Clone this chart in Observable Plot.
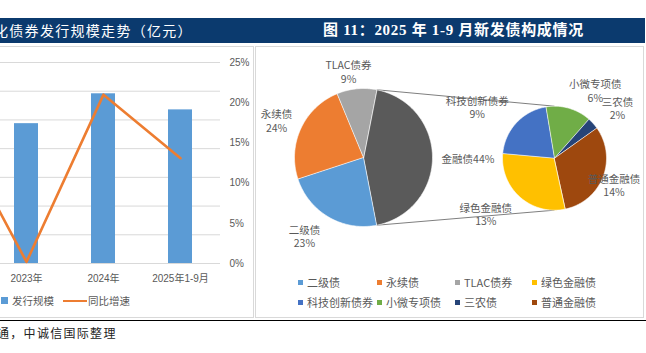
<!DOCTYPE html>
<html><head><meta charset="utf-8">
<script src="https://cdn.jsdelivr.net/npm/d3@7"></script>
<script src="https://cdn.jsdelivr.net/npm/@observablehq/plot@0.6"></script>
<style>
body{margin:0;width:646px;height:353px;position:relative;overflow:hidden;background:#fff;font-family:"Liberation Sans","Noto Sans CJK SC",sans-serif;}
.abs{position:absolute;box-sizing:border-box;}
#band{left:0;top:18px;width:645px;height:25px;background:#0b3a6e;}
.title{top:18px;height:25px;line-height:25px;color:#fff;white-space:nowrap;}
#t1{left:-6px;font-family:"Noto Sans CJK SC",sans-serif;font-size:14px;letter-spacing:1.3px;}
#t2{left:323px;font-family:"Liberation Serif","Noto Sans CJK SC",serif;font-size:15px;font-weight:bold;letter-spacing:0.7px;}
.panel{border:1px solid #d9d9d9;}
.lg{font-family:"Noto Sans CJK SC",sans-serif;font-size:10.5px;color:#595959;white-space:nowrap;line-height:13px;}
#caption{left:-3px;top:325px;font-family:"Noto Sans CJK SC",sans-serif;font-size:12px;letter-spacing:1.3px;color:#222;line-height:16px;white-space:nowrap;}
svg{max-width:none !important;}
</style></head><body>
<div id="band" class="abs"></div>
<div id="t1" class="abs title">化债券发行规模走势（亿元）</div>
<div id="t2" class="abs title">图 11：2025 年 1-9 月新发债构成情况</div>
<div class="abs panel" style="left:-2px;top:46px;width:256px;height:272px;"></div>
<div class="abs panel" style="left:255px;top:46px;width:389px;height:272px;"></div>
<div id="leftClip" class="abs" style="left:0;top:44px;width:253px;height:250px;overflow:hidden;"></div>
<div id="leftLegend"></div>
<div id="rightPlot" class="abs" style="left:256px;top:44px;width:388px;height:273px;"></div>
<div id="rightLegend"></div>
<div class="abs" style="left:0;top:319.5px;width:646px;height:1.5px;background:#000;"></div>
<div id="caption" class="abs">通，中诚信国际整理</div>
<script>
// ---------- data: left chart ----------
const years = ["2022年", "2023年", "2024年", "2025年1-9月"];
const issuance = [4860, 4870, 5910, 5350];      // 发行规模 (left axis, outside the crop)
const yoy = [18.1, 0.2, 21.0, 13.1];             // 同比增速 %
const leftTicks = [0, 1000, 2000, 3000, 4000, 5000, 6000, 7000];
const rightTicks = [0, 5, 10, 15, 20, 25];
const visibleYears = ["2023年", "2024年", "2025年1-9月"];
const leftSeries = ["发行规模", "同比增速"];

// ---------- data: right chart ----------
const mainNames = ["二级债", "永续债", "TLAC债券"];
const mainValues = [23.0, 23.8, 9.3];
const otherName = "金融债";
const subNames = ["绿色金融债", "科技创新债券", "小微专项债", "三农债", "普通金融债"];
const subValues = [13.1, 9.2, 6.2, 1.6, 13.8];
const legendNames = ["二级债", "永续债", "TLAC债券", "绿色金融债", "科技创新债券", "小微专项债", "三农债", "普通金融债"];
const legendColors = ["#5B9BD5", "#ED7D31", "#A5A5A5", "#FFC000", "#4472C4", "#70AD47", "#264478", "#9E480E"];
const otherColor = "#5a5a5a";

// ---------- left chart ----------
const K = 7000 / 25;
const rows = years.map((c, i) => ({c, v: issuance[i], g: yoy[i]}));
const left = Plot.plot({
  width: 411, height: 250, marginLeft: 60, marginRight: 40, marginTop: 18, marginBottom: 31,
  style: {fontFamily: '"Liberation Sans","Noto Sans CJK SC",sans-serif', fontSize: "10px", color: "#595959", background: "transparent"},
  x: {domain: years, paddingInner: 0.685, paddingOuter: 0.3425, axis: null, label: null},
  y: {domain: [0, 7000], axis: null, label: null},
  marks: [
    Plot.ruleY(leftTicks, {stroke: "#d9d9d9", strokeWidth: 1}),
    Plot.barY(rows, {x: "c", y: "v", fill: "#5B9BD5"}),
    Plot.line(rows, {x: "c", y: d => d.g * K, stroke: "#ED7D31", strokeWidth: 2.6}),
    Plot.axisX({ticks: visibleYears, tickSize: 0, tickPadding: 11, fontSize: 10, label: null}),
    Plot.axisY({anchor: "right", ticks: rightTicks.map(t => t * K), tickFormat: d => Math.round(d / K) + "%", tickSize: 0, tickPadding: 9, fontSize: 10, label: null})
  ]
});
left.style.position = "absolute";
left.style.left = "-151.5px";
left.style.top = "0px";
left.style.maxWidth = "none";
left.style.width = "411px";
document.getElementById("leftClip").appendChild(left);

// left legend
(function () {
  const L = document.getElementById("leftLegend");
  L.innerHTML =
    `<div class="abs" style="left:1px;top:297px;width:7px;height:7px;background:#5B9BD5"></div>` +
    `<div class="abs lg" style="left:12px;top:294px">${leftSeries[0]}</div>` +
    `<div class="abs" style="left:63px;top:299.5px;width:24px;height:2.5px;background:#ED7D31"></div>` +
    `<div class="abs lg" style="left:88px;top:294px">${leftSeries[1]}</div>`;
})();

// ---------- right chart (pie of pie) ----------
const W = 388, H = 273;
const mainC = {x: 107, y: 113, r: 69};
const subC = {x: 298, y: 113.7, r: 52};
const subStart = 167.7;
const labelGap = 20;
const nudge = {
  "TLAC债券": [-6, 2.6], "永续债": [-6, 0], "二级债": [-14, 2], "金融债": [15.5, 1],
  "绿色金融债": [-21, 2], "科技创新债券": [-24.5, -2], "小微专项债": [21, 1.5], "三农债": [9.5, -2], "普通金融债": [-7.7, 1]
};
const rad = a => a * Math.PI / 180;
const pt = (c, r, a) => [c.x + r * Math.sin(rad(a)), c.y - r * Math.cos(rad(a))];

const otherValue = d3.sum(subValues);
const total = d3.sum(mainValues) + otherValue;
const mainOrder = [otherName, ...mainNames];
const mainVals = [otherValue, ...mainValues];
const slices = [];
let a = 90 - otherValue / total * 180;
mainOrder.forEach((n, i) => { const s = mainVals[i] / total * 360; slices.push({name: n, a0: a, a1: a + s, c: mainC, v: mainVals[i]}); a += s; });
a = subStart;
subNames.forEach((n, i) => { const s = subValues[i] / otherValue * 360; slices.push({name: n, a0: a, a1: a + s, c: subC, v: subValues[i]}); a += s; });

const polys = [];
slices.forEach(s => {
  polys.push({name: s.name, x: s.c.x, y: s.c.y});
  const n = Math.max(2, Math.ceil(s.a1 - s.a0));
  for (let k = 0; k <= n; k++) {
    const [x, y] = pt(s.c, s.c.r, s.a0 + (s.a1 - s.a0) * k / n);
    polys.push({name: s.name, x, y});
  }
});

const labels = slices.map(s => {
  const [bx, by] = pt(s.c, s.c.r + labelGap, (s.a0 + s.a1) / 2);
  const [nx, ny] = nudge[s.name];
  const pct = Math.round(s.v / total * 100) + "%";
  const text = s.name === otherName ? s.name + pct : s.name + "\n" + pct;
  return {x: bx + nx, y: by + ny, text};
});

const o = slices[0];
const [tx1, ty1] = pt(mainC, mainC.r, o.a0);
const [bx1, by1] = pt(mainC, mainC.r, o.a1);
const [tx2, ty2] = pt(subC, subC.r, 0);
const [bx2, by2] = pt(subC, subC.r, 180);
const links = [{x1: tx1, y1: ty1, x2: tx2, y2: ty2}, {x1: bx1, y1: by1, x2: bx2, y2: by2}];

const right = Plot.plot({
  width: W, height: H, margin: 0,
  style: {background: "transparent"},
  x: {domain: [0, W], range: [0, W], axis: null},
  y: {domain: [0, H], range: [0, H], axis: null},
  color: {domain: [...legendNames, otherName], range: [...legendColors, otherColor]},
  marks: [
    Plot.link(links, {x1: "x1", y1: "y1", x2: "x2", y2: "y2", stroke: "#7f7f7f", strokeWidth: 1}),
    Plot.line(polys, {x: "x", y: "y", z: "name", fill: "name", stroke: "#ffffff", strokeWidth: 0.6, curve: "linear-closed"}),
    Plot.text(labels, {x: "x", y: "y", text: "text", fontSize: 10.5, lineHeight: 1.3, fill: "#595959",
      fontFamily: '"Noto Sans CJK SC",sans-serif'})
  ]
});
document.getElementById("rightPlot").appendChild(right);

// right legend
(function () {
  const R = document.getElementById("rightLegend");
  const cols = [298, 377, 455, 532], rowsY = [282.7, 302.7];
  let h = "";
  legendNames.forEach((n, i) => {
    const cx = cols[i % 4], cy = rowsY[Math.floor(i / 4)];
    h += `<div class="abs" style="left:${cx}px;top:${cy - 2.5}px;width:5px;height:5px;background:${legendColors[i]}"></div>`;
    h += `<div class="abs lg" style="left:${cx + 9}px;top:${cy - 6.5}px;font-size:11px">${n}</div>`;
  });
  R.innerHTML = h;
})();
</script>
</body></html>
